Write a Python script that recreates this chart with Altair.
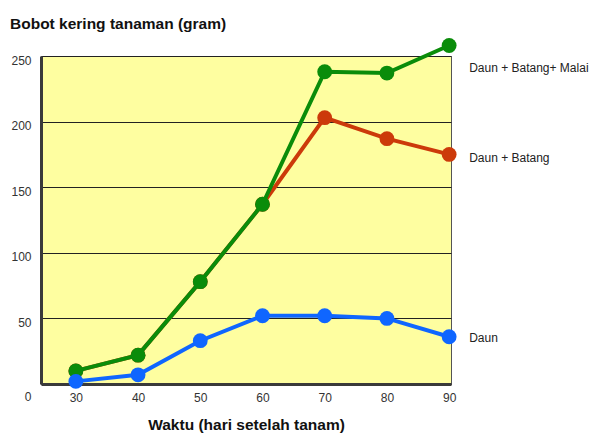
import altair as alt
import pandas as pd

days = [30, 40, 50, 60, 70, 80, 90]
daun = [2, 7, 33, 52, 52, 50, 36]
daun_batang = [10, 22, 78, 137, 203, 187, 175]
daun_batang_malai = [10, 22, 78, 137, 238, 237, 258]

series_names = ["Daun + Batang", "Daun + Batang+ Malai", "Daun"]
series_colors = ["#cc3a0a", "#0a8c0a", "#0f66ff"]
label_y = [172, 241, 35]

rows = []
for order, (name, vals) in enumerate(zip(series_names, [daun_batang, daun_batang_malai, daun])):
    for d, v in zip(days, vals):
        rows.append({"Waktu": d, "Bobot": v, "Seri": name, "order": order})
df = pd.DataFrame(rows)

lab_df = pd.DataFrame({"Seri": series_names, "Bobot": label_y, "Waktu": [90] * 3})

x = alt.X("Waktu:Q", scale=alt.Scale(domain=[24.4, 90.3], nice=False, zero=False),
          axis=alt.Axis(values=days, title="Waktu (hari setelah tanam)", grid=False,
                        ticks=False, domainWidth=3, domainColor="#3a3a3a",
                        labelPadding=8, labelFont="Arial", labelFontSize=12,
                        labelColor="#333333", titleFont="Arial", titleFontSize=15.5,
                        titleFontWeight="bold", titleColor="#111111", titlePadding=14,
                        labelFlush=False))
y = alt.Y("Bobot:Q", scale=alt.Scale(domain=[0, 250], nice=False),
          axis=alt.Axis(values=[0, 50, 100, 150, 200, 250], title=None, grid=True,
                        gridColor="#222222", gridWidth=1, gridOpacity=1, ticks=False,
                        domainWidth=3, domainColor="#3a3a3a", labelPadding=10,
                        labelFont="Arial", labelFontSize=12, labelColor="#333333",
                        labelOffset={"condition": {"test": "datum.value === 0", "value": 12}, "value": 4},
                        labelFlush=False))

layers = []
for i, name in enumerate(series_names):
    sub = df[df["Seri"] == name]
    layers.append(alt.Chart(sub).mark_line(strokeWidth=4, clip=False, color=series_colors[i]).encode(x=x, y=y))
    layers.append(alt.Chart(sub).mark_circle(size=220, opacity=1, clip=False, color=series_colors[i]).encode(x=x, y=y))

labels = alt.Chart(lab_df).mark_text(align="left", baseline="middle", dx=20, font="Arial",
                                     fontSize=12, color="#222222", clip=False).encode(
    x=x, y=y, text="Seri:N")

chart = alt.layer(*layers, labels).properties(
    width=410, height=328,
    autosize=alt.AutoSizeParams(type="none"),
    padding={"left": 33, "top": 48, "right": 146, "bottom": 50},
    title=alt.TitleParams("Bobot kering tanaman (gram)", anchor="start", frame="group",
                          dx=-31, offset=5, font="Arial", fontSize=15.5,
                          fontWeight="bold", color="#111111"),
    background="white",
).configure_view(fill="#fefea0", stroke="#555555", strokeWidth=1)

chart.save("out.html", embed_options={"renderer": "svg", "actions": False})
